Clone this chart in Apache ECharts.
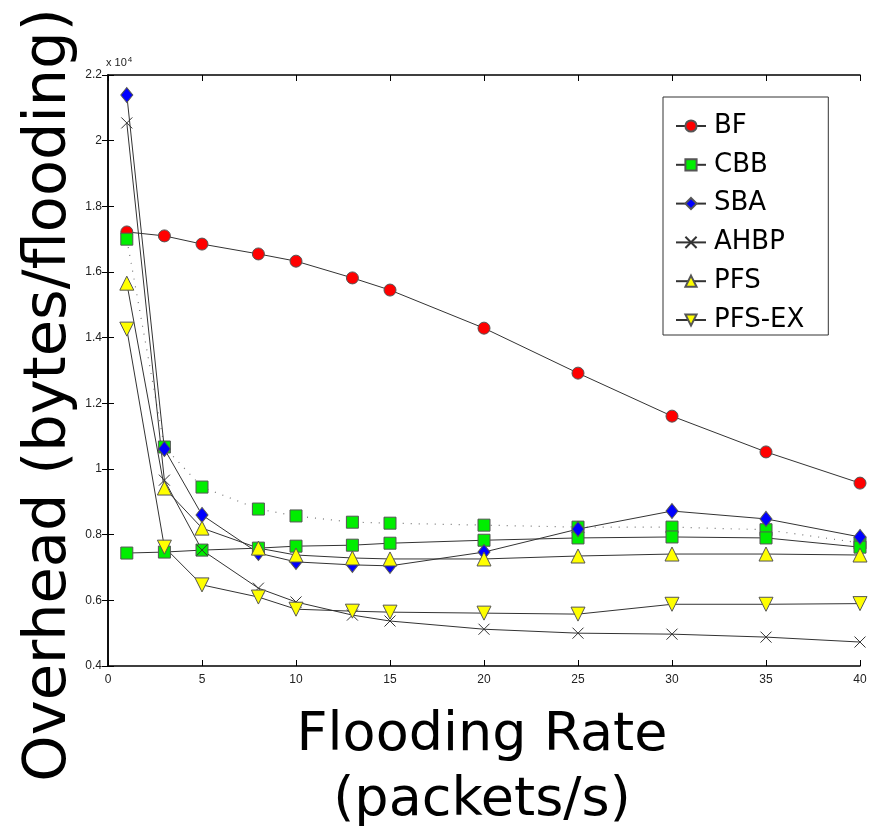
<!DOCTYPE html>
<html>
<head>
	<meta charset="utf-8">
	<title></title>
	<script src="https://cdn.jsdelivr.net/npm/echarts@6/dist/echarts.min.js"></script>
	<style>
		html, body { margin: 0; padding: 0; background: #fff; }
	</style>
</head>
<body>
	<div id="main" style="width: 877px;height:836px;"></div>
	<script type="text/javascript">
		// flooding rate (packets/s)
		var rates = [1, 3, 5, 8, 10, 13, 15, 20, 25, 30, 35, 40];
		// overhead, bytes per flooding
		var bf     = [17220, 17100, 16850, 16550, 16330, 15820, 15450, 14290, 12920, 11610, 10520, 9570];
		var cbb    = [7440, 7470, 7530, 7590, 7650, 7680, 7740, 7830, 7900, 7930, 7900, 7620];
		var cbbDot = [17000, 10670, 9450, 8780, 8570, 8380, 8350, 8290, 8230, 8230, 8150, 7750];
		var sba    = [21390, 10610, 8600, 7440, 7170, 7080, 7050, 7470, 8170, 8720, 8480, 7930];
		var ahbp   = [20540, 9660, 7530, 6370, 5950, 5550, 5370, 5120, 5000, 4970, 4880, 4730];
		var pfs    = [15660, 9420, 8200, 7590, 7380, 7290, 7260, 7260, 7350, 7410, 7410, 7380];
		var pfsEx  = [14260, 7620, 6470, 6100, 5730, 5670, 5640, 5610, 5580, 5880, 5880, 5900];
		var legendNames = ['BF', 'CBB', 'SBA', 'AHBP', 'PFS', 'PFS-EX'];

		function pairs(ys) {
			return rates.map(function (x, i) { return [x, ys[i]]; });
		}

		var crossPath = 'path://M0,0L10,10M10,0L0,10';

		function mk(name, ys, symbol, size, fill, extra) {
			var s = {
				name: name,
				type: 'line',
				data: pairs(ys),
				symbol: symbol,
				symbolSize: size,
				lineStyle: { color: '#333', width: 1 },
				itemStyle: { color: fill, borderColor: '#555', borderWidth: 1 },
				emphasis: { disabled: true },
				z: 3
			};
			for (var k in extra) s[k] = extra[k];
			return s;
		}

		var myChart = echarts.init(document.getElementById('main'));

		var tickFont = { fontFamily: 'Liberation Sans', fontSize: 12, color: '#222' };

		var option = {
			animation: false,
			backgroundColor: '#fff',
			grid: { left: 108, right: 17, top: 75, bottom: 170 },
			legend: {
				data: legendNames,
				orient: 'vertical',
				left: 663,
				top: 97,
				padding: [16, 24, 2, 12],
				itemWidth: 30,
				itemHeight: 14,
				itemGap: 12.8,
				backgroundColor: '#fff',
				borderColor: '#333',
				borderWidth: 1,
				textStyle: { fontFamily: 'DejaVu Sans', fontSize: 26, color: '#000', padding: [0, 0, 0, 3] }
			},
			xAxis: [{
				type: 'value', min: 0, max: 40, interval: 5,
				axisLine: { lineStyle: { color: '#000', width: 1.5 } },
				axisTick: { inside: true, length: 6, lineStyle: { color: '#000' } },
				axisLabel: tickFont,
				splitLine: { show: false }
			}, {
				type: 'value', position: 'top', min: 0, max: 40, interval: 5,
				axisLine: { show: true, lineStyle: { color: '#000', width: 1.5 } },
				axisTick: { inside: true, length: 6, lineStyle: { color: '#000' } },
				axisLabel: { show: false },
				splitLine: { show: false }
			}],
			yAxis: [{
				type: 'value', min: 4000, max: 22000, interval: 2000,
				axisLine: { show: true, lineStyle: { color: '#000', width: 1.5 } },
				axisTick: { show: true, inside: true, length: 6, lineStyle: { color: '#000' } },
				axisLabel: Object.assign({ margin: 6, formatter: function (v) { return String(Math.round(v / 1000) / 10); } }, tickFont),
				splitLine: { show: false }
			}, {
				type: 'value', position: 'right', min: 4000, max: 22000, interval: 2000,
				axisLine: { show: true, lineStyle: { color: '#000', width: 1.5 } },
				axisTick: { show: true, inside: true, length: 6, lineStyle: { color: '#000' } },
				axisLabel: { show: false },
				splitLine: { show: false }
			}],
			graphic: [
				{
					type: 'text', left: 106, top: 56,
					style: {
						text: '{b|x 10}{s|4}',
						rich: {
							b: { fontFamily: 'Liberation Sans', fontSize: 11, fill: '#222' },
							s: { fontFamily: 'Liberation Sans', fontSize: 8, fill: '#222', verticalAlign: 'top', padding: [0, 0, 6, 1] }
						}
					}
				},
				{
					type: 'text', x: 482, y: 768,
					style: {
						text: 'Flooding Rate\n(packets/s)',
						font: '54px "DejaVu Sans"',
						lineHeight: 65,
						align: 'center',
						verticalAlign: 'middle',
						fill: '#000'
					}
				},
				{
					type: 'text', x: 50, y: 395, rotation: Math.PI / 2,
					style: {
						text: 'Overhead (bytes/flooding)',
						font: '59px "DejaVu Sans"',
						align: 'center',
						verticalAlign: 'middle',
						fill: '#000'
					}
				}
			],
			series: [
				mk('BF', bf, 'circle', 12, '#ff0000'),
				mk('CBB-dotted', cbbDot, 'rect', 12, '#00ee00', { lineStyle: { color: '#777', width: 1.2, type: [1, 7] } }),
				mk('CBB', cbb, 'rect', 12, '#00ee00'),
				mk('SBA', sba, 'diamond', [12, 15], '#0000ff'),
				mk('AHBP', ahbp, crossPath, 11, 'none', { itemStyle: { color: 'none', borderColor: '#333', borderWidth: 1 } }),
				mk('PFS', pfs, 'triangle', 14, '#ffff00'),
				mk('PFS-EX', pfsEx, 'triangle', 14, '#ffff00', { symbolRotate: 180 })
			]
		};

		myChart.setOption(option);
	</script>
</body>
</html>
